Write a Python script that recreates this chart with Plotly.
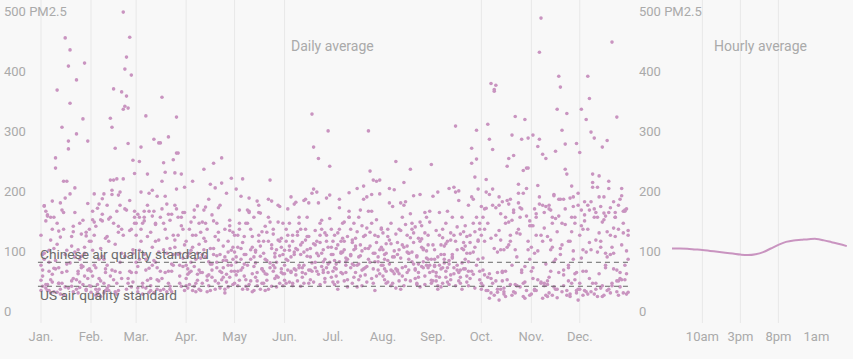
import plotly.graph_objects as go

# ---------------- data ----------------
month_names = ["Jan.", "Feb.", "Mar.", "Apr.", "May", "Jun.", "Jul.", "Aug.", "Sep.", "Oct.", "Nov.", "Dec."]
month_start = [1, 32, 60, 91, 121, 152, 182, 213, 244, 274, 305, 335]
month_days = [31, 28, 31, 30, 31, 30, 31, 31, 30, 31, 30, 31]
grid_months = ["Jan.", "Feb.", "Mar.", "Apr.", "May", "Jun.", "Oct.", "Nov.", "Dec."]

# daily PM2.5 averages, four years per month (each year = one row of day values)
pm_jan = [45, 88, 169, 32, 28, 60, 112, 177, 65, 249, 362, 40, 22, 58, 130, 449, 95, 402, 189, 35, 26, 84, 379, 96, 42, 70, 145, 407, 30, 277, 64,
          120, 62, 169, 38, 154, 75, 24, 55, 98, 232, 140, 66, 30, 300, 210, 182, 210, 277, 429, 118, 48, 199, 289, 60, 33, 85, 314, 52, 28, 173, 110,
          70, 35, 90, 144, 152, 28, 46, 130, 150, 78, 25, 40, 117, 162, 158, 34, 72, 264, 340, 44, 126, 92, 30, 56, 140, 122, 68, 100, 119, 48, 36,
          28, 52, 80, 160, 38, 95, 150, 42, 26, 64, 105, 127, 174, 40, 20, 88, 60, 32, 74, 102, 135, 158, 46, 24, 80, 66, 38, 90, 125, 62, 130]
pm_feb = [60, 95, 189, 30, 22, 48, 146, 85, 40, 28, 70, 110, 315, 300, 364, 265, 214, 187, 192, 359, 492, 397, 417, 332, 450, 387, 245, 223,
          35, 52, 120, 66, 25, 80, 44, 181, 189, 58, 32, 147, 212, 62, 212, 105, 40, 28, 75, 130, 330, 335, 352, 273, 60, 34, 90, 140,
          110, 160, 142, 20, 38, 172, 98, 155, 24, 64, 118, 36, 150, 188, 46, 26, 160, 125, 170, 48, 214, 85, 162, 40, 128, 58, 96, 150,
          25, 146, 70, 135, 165, 30, 18, 144, 80, 115, 170, 28, 52, 195, 140, 60, 22, 135, 58, 90, 120, 164, 30, 48, 178, 130, 42, 160]
pm_mar = [58, 32, 243, 267, 40, 88, 319, 222, 65, 28, 195, 280, 110, 46, 274, 60, 350, 241, 225, 90, 284, 35, 72, 246, 224, 317, 257, 70, 222, 130, 200,
          120, 155, 80, 192, 34, 150, 62, 170, 25, 48, 100, 160, 75, 30, 112, 274, 210, 140, 58, 26, 155, 98, 60, 120, 170, 197, 88, 40, 150, 68, 104,
          140, 68, 95, 130, 22, 144, 80, 118, 160, 36, 152, 78, 140, 185, 44, 28, 164, 96, 130, 172, 40, 30, 155, 88, 112, 257, 150, 52, 136, 82, 158,
          75, 26, 150, 110, 140, 160, 32, 45, 190, 125, 70, 24, 138, 66, 92, 150, 48, 30, 185, 115, 60, 145, 26, 70, 100, 164, 120, 90, 35, 158, 28]
pm_apr = [48, 85, 130, 60, 210, 35, 26, 90, 140, 58, 142, 230, 110, 45, 180, 205, 62, 240, 199, 75, 40, 170, 249, 66, 30, 55, 92, 128, 215, 80,
          70, 32, 58, 95, 120, 150, 40, 169, 62, 28, 88, 115, 167, 52, 36, 72, 154, 98, 44, 66, 125, 88, 207, 50, 24, 78, 110, 145, 60, 38,
          110, 64, 38, 75, 100, 162, 120, 45, 30, 82, 58, 96, 140, 130, 76, 28, 50, 88, 118, 140, 166, 32, 58, 102, 84, 42, 70, 136, 95, 125,
          36, 55, 90, 142, 28, 68, 80, 55, 105, 125, 40, 162, 84, 26, 54, 98, 72, 144, 30, 86, 112, 60, 46, 78, 130, 190, 34, 50, 70, 100]
pm_may = [60, 197, 120, 45, 185, 214, 88, 35, 70, 182, 130, 56, 28, 95, 177, 110, 157, 64, 40, 80, 125, 150, 212, 177, 70, 48, 96, 142, 110, 58, 36,
          40, 75, 100, 130, 62, 30, 52, 88, 140, 160, 44, 26, 68, 92, 58, 120, 85, 40, 110, 135, 55, 30, 74, 98, 122, 66, 34, 50, 86, 115, 140,
          92, 54, 36, 162, 80, 108, 72, 46, 30, 158, 96, 118, 84, 50, 36, 170, 102, 126, 60, 28, 45, 180, 66, 104, 130, 90, 52, 170, 40, 64, 88,
          120, 84, 60, 140, 98, 66, 118, 140, 162, 38, 80, 100, 150, 74, 44, 158, 30, 64, 90, 56, 78, 110, 142, 35, 60, 84, 75, 112, 168, 100, 56]
pm_jun = [70, 110, 164, 95, 60, 40, 88, 175, 120, 66, 35, 58, 92, 130, 150, 174, 98, 322, 267, 75, 110, 248, 140, 90, 62, 48, 120, 294, 235, 100,
          45, 80, 120, 140, 58, 36, 64, 98, 126, 150, 88, 50, 70, 112, 85, 40, 62, 190, 197, 104, 60, 86, 120, 145, 76, 42, 66, 100, 187, 130,
          95, 130, 62, 42, 84, 110, 172, 54, 96, 140, 104, 66, 40, 180, 118, 62, 46, 74, 106, 128, 192, 55, 38, 68, 96, 124, 182, 58, 75, 50,
          56, 40, 78, 102, 184, 120, 92, 62, 44, 70, 130, 108, 178, 56, 96, 118, 84, 60, 42, 66, 90, 174, 108, 130, 58, 80, 110, 72, 148, 88]
pm_jul = [88, 120, 64, 42, 76, 110, 140, 96, 58, 80, 191, 130, 72, 50, 98, 198, 150, 86, 62, 202, 120, 184, 294, 227, 140, 212, 90, 210, 118, 212, 70,
          60, 38, 72, 104, 130, 92, 56, 44, 82, 118, 150, 66, 40, 70, 102, 126, 84, 52, 36, 64, 98, 132, 160, 75, 48, 90, 120, 146, 62, 189, 100,
          110, 78, 52, 30, 166, 90, 115, 142, 70, 46, 160, 88, 112, 96, 58, 34, 72, 104, 136, 180, 54, 68, 98, 125, 160, 40, 76, 108, 84, 56, 132,
          42, 66, 98, 124, 180, 58, 92, 110, 76, 34, 150, 86, 108, 140, 115, 70, 46, 162, 94, 118, 66, 42, 80, 102, 188, 64, 28, 52, 76, 96, 130]
pm_aug = [96, 64, 40, 78, 112, 140, 168, 196, 243, 60, 44, 82, 150, 208, 176, 120, 90, 230, 130, 72, 48, 86, 115, 142, 100, 66, 38, 70, 104, 160, 238,
          52, 80, 106, 130, 72, 36, 60, 94, 122, 88, 56, 30, 66, 100, 138, 92, 62, 44, 76, 108, 134, 84, 50, 34, 68, 96, 124, 150, 80, 58, 40,
          124, 88, 60, 42, 174, 106, 84, 56, 32, 62, 96, 128, 104, 170, 46, 58, 90, 116, 140, 186, 64, 40, 72, 110, 136, 98, 158, 82, 120, 70, 45,
          70, 46, 90, 118, 198, 62, 40, 84, 64, 108, 130, 174, 52, 36, 68, 102, 80, 156, 92, 124, 62, 38, 58, 188, 114, 76, 52, 94, 66, 142, 80]
pm_sep = [185, 80, 52, 36, 70, 104, 130, 88, 60, 42, 78, 112, 150, 200, 302, 96, 58, 40, 74, 108, 136, 90, 60, 120, 265, 180, 217, 295, 110, 60,
          60, 96, 128, 84, 50, 34, 66, 102, 140, 110, 72, 46, 84, 120, 192, 70, 44, 62, 98, 126, 80, 52, 36, 90, 240, 140, 100, 247, 197, 46,
          104, 68, 44, 30, 158, 88, 116, 74, 50, 66, 198, 124, 82, 56, 36, 62, 194, 122, 150, 96, 64, 42, 76, 108, 184, 55, 32, 70, 112, 140,
          44, 70, 58, 192, 120, 64, 40, 80, 106, 160, 38, 54, 88, 66, 110, 134, 178, 50, 30, 64, 102, 118, 170, 48, 60, 92, 126, 150, 80, 130]
pm_oct = [40, 62, 110, 213, 305, 280, 373, 263, 363, 370, 25, 12, 30, 58, 96, 140, 235, 248, 120, 287, 253, 318, 36, 205, 150, 280, 228, 313, 232, 282, 20,
          30, 82, 130, 165, 28, 15, 48, 197, 360, 120, 58, 170, 96, 44, 22, 60, 100, 142, 180, 70, 26, 38, 84, 130, 166, 62, 18, 42, 198, 232, 80,
          120, 150, 164, 28, 50, 188, 115, 40, 20, 166, 92, 128, 156, 176, 32, 18, 46, 172, 110, 145, 158, 24, 36, 190, 122, 164, 40, 15, 152, 96, 136,
          168, 36, 54, 192, 140, 56, 24, 170, 98, 44, 30, 184, 112, 60, 26, 150, 178, 104, 38, 20, 162, 96, 124, 174, 34, 58, 190, 68, 28, 110, 144]
pm_nov = [60, 287, 30, 120, 268, 425, 482, 255, 40, 248, 18, 50, 96, 140, 188, 260, 330, 385, 367, 295, 36, 272, 323, 110, 22, 202, 80, 150, 273, 30,
          22, 48, 90, 150, 203, 280, 42, 15, 36, 72, 118, 164, 60, 20, 34, 80, 126, 180, 88, 26, 54, 230, 222, 70, 18, 40, 94, 140, 58, 12,
          100, 136, 164, 28, 46, 184, 120, 170, 158, 20, 38, 170, 112, 150, 186, 30, 16, 152, 98, 140, 180, 164, 28, 44, 182, 126, 168, 56, 24, 190,
          136, 66, 28, 156, 94, 172, 40, 110, 132, 168, 44, 24, 162, 100, 76, 148, 30, 58, 180, 104, 62, 138, 20, 66, 110, 150, 184, 46, 28, 170]
pm_dec = [258, 330, 60, 28, 313, 385, 348, 292, 222, 282, 40, 200, 219, 110, 267, 184, 66, 278, 198, 120, 442, 90, 150, 317, 170, 34, 198, 160, 70, 164, 25,
          40, 82, 130, 176, 60, 22, 48, 96, 208, 150, 30, 18, 56, 100, 142, 157, 70, 28, 210, 88, 36, 64, 150, 44, 20, 58, 104, 140, 46, 22, 80,
          120, 136, 20, 154, 92, 130, 162, 26, 200, 164, 112, 150, 184, 32, 18, 146, 90, 126, 158, 24, 40, 176, 118, 62, 130, 48, 186, 124, 160, 56, 128,
          30, 162, 96, 144, 26, 170, 108, 176, 40, 22, 158, 92, 124, 168, 36, 20, 152, 84, 30, 166, 100, 132, 158, 26, 44, 180, 46, 24, 162, 94, 120]
monthly_pm = [pm_jan, pm_feb, pm_mar, pm_apr, pm_may, pm_jun, pm_jul, pm_aug, pm_sep, pm_oct, pm_nov, pm_dec]

# hourly average, starting at 6am
hour_index = list(range(24))
hourly_pm = [98, 98, 97.5, 96.5, 95.5, 94, 92.5, 91, 89.5, 87.8, 87, 88.5, 92, 98, 104, 109,
             111.5, 112.5, 113.5, 114, 111.5, 108.5, 105.5, 102]
hour_tickvals = [4, 9, 14, 19]
hour_ticktext = ["10am", "3pm", "8pm", "1am"]
hour_grid = [4, 9, 14]

chinese_standard = 75
us_standard = 35
y_tickvals = [0, 100, 200, 300, 400, 500]
y_ticktext = ["0", "100", "200", "300", "400", "500 PM2.5"]

# ---------------- build ----------------
day_x, day_y = [], []
for start, nd, vals in zip(month_start, month_days, monthly_pm):
    for i, v in enumerate(vals):
        day_x.append(start + i % nd)
        day_y.append(v)

PINK = "#c994c0"
GRID = "#e8e8e8"
TICK = "#aaaaaa"

fig = go.Figure()
fig.add_trace(go.Scatter(x=day_x, y=day_y, mode="markers",
                         marker=dict(size=3.6, color=PINK, line=dict(width=0)),
                         xaxis="x", yaxis="y", hoverinfo="skip"))
fig.add_trace(go.Scatter(x=hour_index, y=hourly_pm, mode="lines",
                         line=dict(color=PINK, width=2, shape="spline", smoothing=1.0),
                         xaxis="x2", yaxis="y2", hoverinfo="skip"))

shapes = []
for name, st in zip(month_names, month_start):
    if name in grid_months:
        shapes.append(dict(type="line", xref="x", yref="y domain", x0=st, x1=st, y0=0, y1=1,
                           line=dict(color=GRID, width=1), layer="below"))
for h in hour_grid:
    shapes.append(dict(type="line", xref="x2", yref="y2 domain", x0=h, x1=h, y0=0, y1=1,
                       line=dict(color=GRID, width=1), layer="below"))
for val in (chinese_standard, us_standard):
    shapes.append(dict(type="line", xref="x", yref="y", x0=-0.9, x1=365, y0=val, y1=val,
                       line=dict(color="#666666", width=1, dash="5px,4px")))

annotations = [
    dict(text="Daily average", x=182, y=435, xref="x", yref="y", showarrow=False,
         font=dict(size=14, color=TICK)),
    dict(text="Hourly average", x=11.6, y=435, xref="x2", yref="y2", showarrow=False,
         font=dict(size=14, color=TICK)),
    dict(text="Chinese air quality standard", x=-0.9, y=88, xref="x", yref="y", showarrow=False,
         xanchor="left", font=dict(size=13.7, color="#6a6a6a")),
    dict(text="US air quality standard", x=-0.9, y=20, xref="x", yref="y", showarrow=False,
         xanchor="left", font=dict(size=13.7, color="#6a6a6a")),
]

yaxis_common = dict(range=[-26.2, 512.2], domain=[36 / 359, 1], tickvals=y_tickvals, ticktext=y_ticktext,
                    ticklabelposition="inside", ticklabeloverflow="allow", ticks="", showgrid=False,
                    zeroline=False, showline=False, ticklabelshift=4, ticklabelstandoff=1,
                    tickfont=dict(size=13, color=TICK))

fig.update_layout(
    width=853, height=359, margin=dict(l=0, r=0, t=0, b=0),
    paper_bgcolor="#f8f8f8", plot_bgcolor="#f8f8f8",
    font=dict(family="Roboto", size=13, color=TICK),
    showlegend=False,
    xaxis=dict(domain=[0, 632 / 853], range=[-24.42, 367.4], tickvals=month_start, ticktext=month_names,
               showgrid=False, zeroline=False, showline=False, ticks="", ticklabelstandoff=4,
               tickfont=dict(size=13, color=TICK)),
    yaxis=dict(anchor="x", **yaxis_common),
    xaxis2=dict(domain=[635 / 853, 1], range=[-4.868, 23.816], tickvals=hour_tickvals, ticktext=hour_ticktext,
                anchor="y2", showgrid=False, zeroline=False, showline=False, ticks="", ticklabelstandoff=4,
                tickfont=dict(size=13, color=TICK)),
    yaxis2=dict(anchor="x2", **yaxis_common),
    shapes=shapes,
    annotations=annotations,
)

fig.write_html("out.html", config={"displayModeBar": False},
               post_script="document.body.style.margin='0px';")
